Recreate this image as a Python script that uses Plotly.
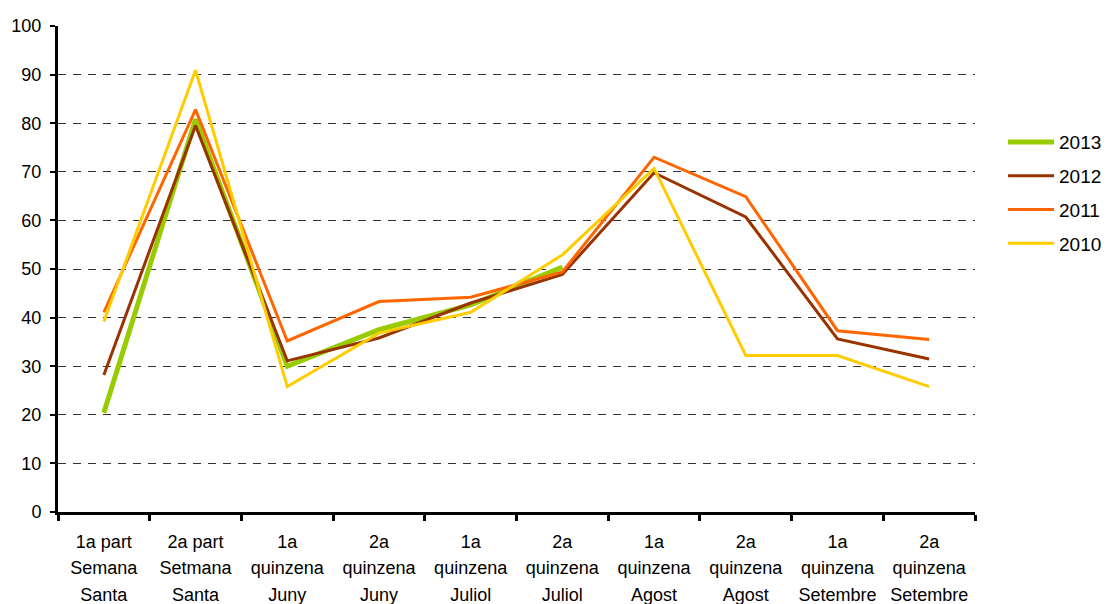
import plotly.graph_objects as go

categories = [
    "1a part<br>Semana<br>Santa",
    "2a part<br>Setmana<br>Santa",
    "1a<br>quinzena<br>Juny",
    "2a<br>quinzena<br>Juny",
    "1a<br>quinzena<br>Juliol",
    "2a<br>quinzena<br>Juliol",
    "1a<br>quinzena<br>Agost",
    "2a<br>quinzena<br>Agost",
    "1a<br>quinzena<br>Setembre",
    "2a<br>quinzena<br>Setembre",
]
cat_ids = [f"c{i}" for i in range(len(categories))]

s2013 = [20.4, 80.8, 30.0, 37.5, 42.6, 50.4]
s2012 = [28.2, 79.5, 31.1, 35.8, 43.0, 48.9, 69.8, 60.7, 35.6, 31.5]
s2011 = [41.1, 82.8, 35.2, 43.3, 44.2, 49.4, 73.0, 64.9, 37.3, 35.5]
s2010 = [39.2, 90.9, 25.8, 36.8, 41.1, 52.9, 70.7, 32.2, 32.2, 25.8]

series = [
    ("2013", s2013, "#99CC00", 5),
    ("2012", s2012, "#993300", 3),
    ("2011", s2011, "#FF6600", 3),
    ("2010", s2010, "#FFCC00", 3),
]

fig = go.Figure()
for name, vals, color, w in series:
    fig.add_trace(go.Scatter(
        x=cat_ids[:len(vals)], y=vals, name=name, mode="lines",
        line=dict(color=color, width=w), legendgroup=name,
    ))

font_family = "Liberation Sans, Arial, sans-serif"
ticktext = ["<br>".join(f'<span style="font-size:18px">{p}</span>' for p in c.split("<br>")) for c in categories]

fig.update_layout(
    width=1112, height=604,
    margin=dict(l=50, r=145, t=18, b=100),
    paper_bgcolor="white", plot_bgcolor="white",
    font=dict(family=font_family, size=18, color="black"),
    showlegend=True,
    legend=dict(
        xref="container", yref="paper",
        x=0.8948, y=0.8, xanchor="left", yanchor="top",
        font=dict(size=19), traceorder="grouped", tracegroupgap=6,
        itemwidth=46, bgcolor="rgba(0,0,0,0)",
    ),
    xaxis=dict(
        type="category", categoryorder="array", categoryarray=cat_ids,
        tickvals=cat_ids, ticktext=ticktext,
        range=[-0.5, 9.5], tickson="boundaries",
        ticks="outside", ticklen=6, tickwidth=3, tickcolor="black",
        showline=True, linecolor="black", linewidth=3,
        showgrid=False, zeroline=False, automargin=False,
        tickfont=dict(size=20.5, family=font_family),
        ticklabelstandoff=8,
    ),
    yaxis=dict(
        range=[0, 100], dtick=10, tick0=0,
        ticks="outside", ticklen=5, tickwidth=2, tickcolor="black",
        showline=True, linecolor="black", linewidth=3,
        showgrid=True, gridcolor="#333333", gridwidth=1, griddash="8px,7px",
        zeroline=False, automargin=False,
        tickfont=dict(size=18, family=font_family),
        ticklabelstandoff=5,
    ),
)

fig.write_html("out.html")
